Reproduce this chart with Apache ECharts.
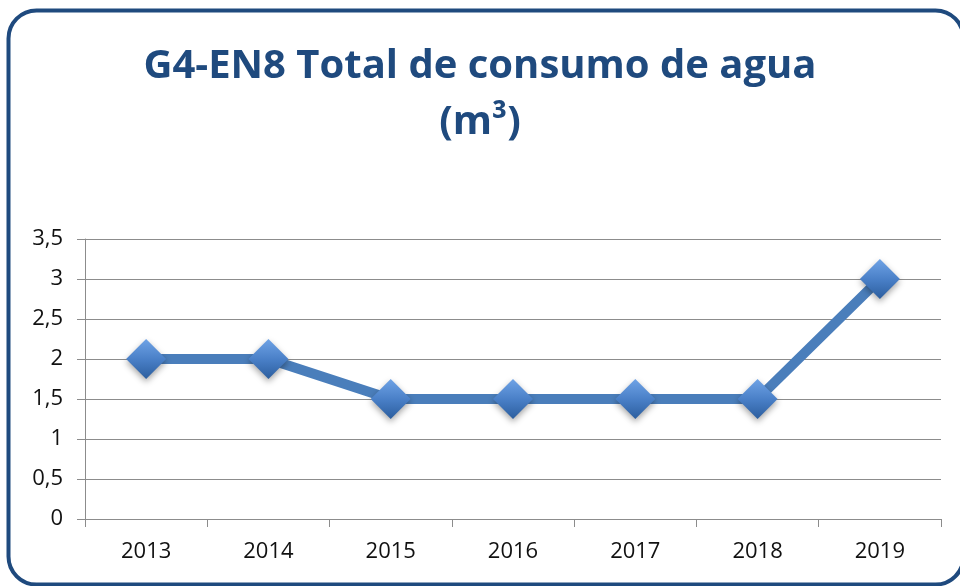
<!DOCTYPE html>
<html>
<head>
<meta charset="utf-8">
<script src="https://cdn.jsdelivr.net/npm/echarts@6/dist/echarts.min.js"></script>
<style>
  html, body { margin: 0; padding: 0; background: #fff; }
  #chart { width: 960px; height: 586px; }
</style>
</head>
<body>
<div id="chart"></div>
<script>
// datos del gráfico
const years = ['2013', '2014', '2015', '2016', '2017', '2018', '2019'];
const consumo = [2, 2, 1.5, 1.5, 1.5, 1.5, 3];
const titleText = 'G4-EN8 Total de consumo de agua\n(m³)';

const chart = echarts.init(document.getElementById('chart'));

const option = {
  backgroundColor: '#ffffff',
  animation: false,
  graphic: [{
    type: 'rect',
    left: 6,
    top: 8,
    shape: { width: 955, height: 574, r: 28 },
    style: { fill: 'none', stroke: '#1F4A7E', lineWidth: 4 },
    z: 0
  }],
  title: {
    text: titleText,
    left: 'center',
    top: 34,
    textStyle: {
      fontFamily: '"Open Sans", sans-serif',
      fontWeight: 'bold',
      fontSize: 40,
      lineHeight: 56,
      color: '#1F4A7E'
    }
  },
  grid: { left: 85, right: 19, top: 239, bottom: 67 },
  xAxis: {
    type: 'category',
    data: years,
    boundaryGap: true,
    axisLine: { lineStyle: { color: '#8c8c8c', width: 1 } },
    axisTick: { show: true, length: 8, lineStyle: { color: '#8c8c8c' } },
    axisLabel: {
      color: '#111',
      fontSize: 22,
      margin: 22,
      fontFamily: '"Open Sans", sans-serif'
    }
  },
  yAxis: {
    type: 'value',
    min: 0,
    max: 3.5,
    interval: 0.5,
    axisLine: { show: true, lineStyle: { color: '#8c8c8c', width: 1 } },
    axisTick: { show: true, length: 8, lineStyle: { color: '#8c8c8c' } },
    splitLine: { lineStyle: { color: '#8c8c8c', width: 1 } },
    axisLabel: {
      color: '#111',
      fontSize: 22,
      margin: 22,
      fontFamily: '"Open Sans", sans-serif',
      formatter: v => String(v).replace('.', ',')
    }
  },
  series: [{
    type: 'line',
    data: consumo,
    symbol: 'diamond',
    symbolSize: [40, 40],
    lineStyle: { color: '#4A7EBB', width: 10 },
    itemStyle: {
      color: new echarts.graphic.LinearGradient(0, 0, 0, 1, [
        { offset: 0, color: '#6FA3E6' },
        { offset: 0.5, color: '#4A80C8' },
        { offset: 1, color: '#2C5E9E' }
      ]),
      shadowBlur: 6,
      shadowColor: 'rgba(0,0,0,0.35)',
      shadowOffsetY: 3
    },
    z: 3
  }]
};

chart.setOption(option);
</script>
</body>
</html>
